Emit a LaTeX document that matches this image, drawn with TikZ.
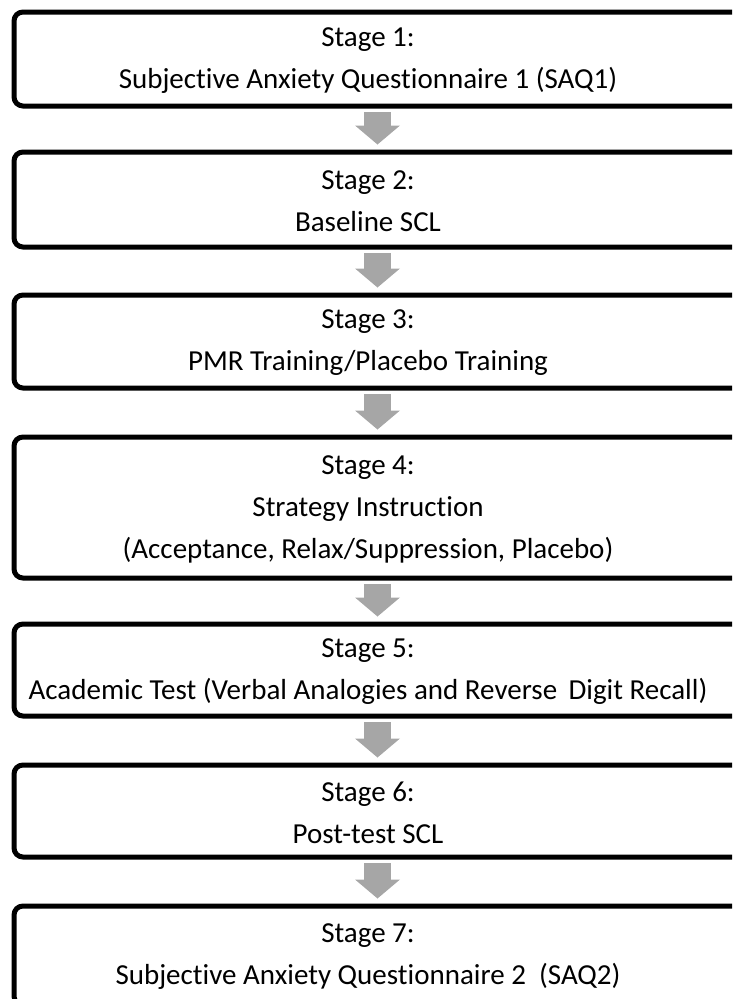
\documentclass[tikz,border=0pt]{standalone}
\usepackage{fontspec}
\setmainfont[Ligatures=NoCommon]{Carlito}
\usetikzlibrary{arrows.meta}

\definecolor{arrowgray}{RGB}{166,166,166}
\tikzset{
    stagebox/.style={draw, line width=5pt, rounded corners=9pt, minimum width=800pt, inner sep=0pt},
    stagetext/.style={align=center, inner sep=0pt, font=\fontsize{29}{42}\selectfont},
    stagearrow/.style={arrowgray, line width=27pt, shorten <=3.5pt, shorten >=5pt,
        -{Triangle[width=45pt, length=19pt, line width=0pt]}}
}

\begin{document}
\begin{tikzpicture}[x=1pt, y=1pt]
        \useasboundingbox (0,0) rectangle (732,-999);
        \clip (0,0) rectangle (732,-999);

        \node[stagebox, minimum height=94pt] (s1) at (414,-59) {};
        \node[stagebox, minimum height=95pt] (s2) at (414,-199.5) {};
        \node[stagebox, minimum height=93pt] (s3) at (414,-341.5) {};
        \node[stagebox, minimum height=141pt] (s4) at (414,-507.5) {};
        \node[stagebox, minimum height=92pt] (s5) at (414,-670) {};
        \node[stagebox, minimum height=92pt] (s6) at (414,-811) {};
        \node[stagebox, minimum height=99pt] (s7) at (414,-955.5) {};

        \node[stagetext, xshift=-46pt, yshift=-1.5pt] (t1) at (s1.center) {Stage 1:\\Subjective Anxiety Questionnaire 1 (SAQ1)};
        \node[stagetext, xshift=-46pt, yshift=-1.5pt] (t2) at (s2.center) {Stage 2:\\Baseline SCL};
        \node[stagetext, xshift=-46pt, yshift=-1.5pt] (t3) at (s3.center) {Stage 3:\\PMR Training/Placebo Training};
        \node[stagetext, xshift=-46pt, yshift=-1.5pt] (t4) at (s4.center) {Stage 4:\\Strategy Instruction\\(Acceptance, Relax/Suppression, Placebo)};
        \node[stagetext, xshift=-46pt, yshift=-1.5pt] (t5) at (s5.center) {Stage 5:\\Academic Test (Verbal Analogies and Reverse\ \,Digit Recall)};
        \node[stagetext, xshift=-46pt, yshift=-1.5pt] (t6) at (s6.center) {Stage 6:\\Post-test SCL};
        \node[stagetext, xshift=-46pt, yshift=-1.5pt] (t7) at (s7.center) {Stage 7:\\Subjective Anxiety Questionnaire 2\ \ (SAQ2)};

        % arrows between the stages
        \foreach \a/\b in {s1/s2, s2/s3, s3/s4, s4/s5, s5/s6, s6/s7}
            \draw[stagearrow] ([xshift=-36.5pt]\a.south) -- ([xshift=-36.5pt]\b.north);
    \end{tikzpicture}
\end{document}
